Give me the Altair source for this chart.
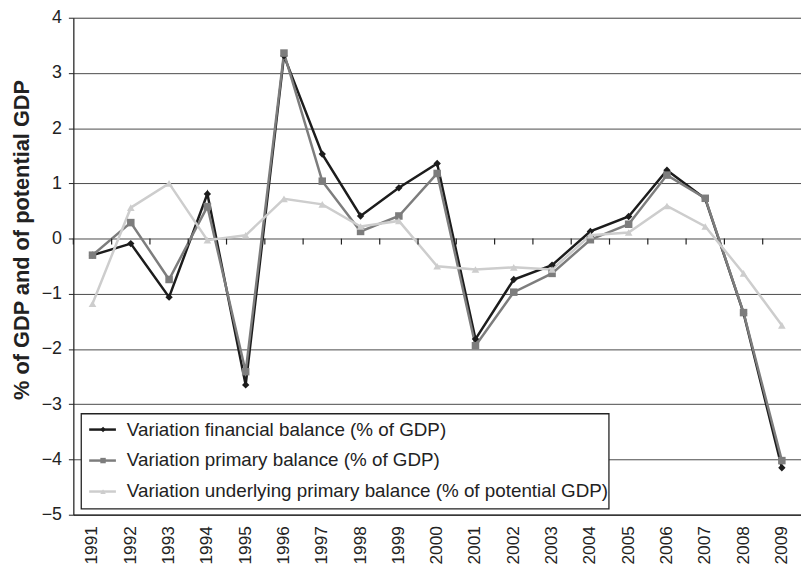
import altair as alt
import pandas as pd

years = [str(y) for y in range(1991, 2010)]
financial = [-0.30, -0.09, -1.06, 0.81, -2.65, 3.31, 1.53, 0.41, 0.92, 1.36,
             -1.82, -0.74, -0.48, 0.13, 0.40, 1.24, 0.72, -1.35, -4.15]
primary = [-0.30, 0.29, -0.74, 0.58, -2.41, 3.36, 1.04, 0.13, 0.41, 1.18,
           -1.94, -0.97, -0.63, -0.02, 0.26, 1.15, 0.73, -1.34, -4.02]
underlying = [-1.18, 0.56, 1.00, -0.03, 0.06, 0.72, 0.62, 0.22, 0.32, -0.50,
              -0.56, -0.52, -0.56, 0.06, 0.11, 0.59, 0.22, -0.63, -1.57]

series_names = [
    "Variation financial balance (% of GDP)",
    "Variation primary balance (% of GDP)",
    "Variation underlying primary balance (% of potential GDP)",
]
series_values = [financial, primary, underlying]
colors = ["#1c1c1c", "#7d7d7d", "#cdcdcd"]
shapes = ["diamond", "square", "triangle-up"]
sizes = [55, 60, 65]

rows = []
for name, vals in zip(series_names, series_values):
    for yr, v in zip(years, vals):
        rows.append({"year": yr, "value": v, "series": name})
df = pd.DataFrame(rows)
years_df = pd.DataFrame({"year": years})

W, H = 735, 502
YMIN, YMAX = -5, 4
FONT = "Liberation Sans"
TICK_LEN = 6 * (YMAX - YMIN) / H

color_scale = alt.Scale(domain=series_names, range=colors)
shape_scale = alt.Scale(domain=series_names, range=shapes)
size_scale = alt.Scale(domain=series_names, range=sizes)
x_scale = alt.Scale(type="band", paddingInner=0, paddingOuter=0)
y_scale = alt.Scale(domain=[YMIN, YMAX], nice=False, zero=False)

y_enc = alt.Y(
    "value:Q",
    scale=y_scale,
    axis=alt.Axis(
        values=list(range(YMIN, YMAX + 1)), format="d",
        grid=True, gridColor="#4a4a4a", gridWidth=1,
        domainColor="#222222", domainWidth=1.2,
        tickColor="#222222", tickSize=5,
        labelFontSize=18, labelColor="#222222", labelFont=FONT, labelPadding=7,
        title="% of GDP and of potential GDP",
        titleFontSize=22, titleFontWeight="bold", titleFont=FONT, titleColor="#222222",
        titleX=-45, titleY=224, titleBaseline="alphabetic",
    ),
)

lines = alt.Chart(df).mark_line(strokeWidth=2.5).encode(
    x=alt.X("year:N", sort=years, scale=x_scale,
            axis=alt.Axis(labelAngle=-90, labelFontSize=17.5, labelFont=FONT,
                          labelColor="#222222", ticks=False, tickSize=0,
                          labelPadding=11, domain=True, domainColor="#222222",
                          domainWidth=1.2, title=None, grid=False)),
    y=y_enc,
    color=alt.Color("series:N", scale=color_scale, legend=None),
    order=alt.Order("year:N"),
)

# category-axis ticks on the zero line (between categories)
zero_ticks = alt.Chart(years_df).mark_rule(color="#222222", strokeWidth=1.2).encode(
    x=alt.X("year:N", sort=years, scale=x_scale, bandPosition=0),
    y=alt.datum(0),
    y2=alt.datum(-TICK_LEN),
)

points = alt.Chart(df).mark_point(filled=True, opacity=1).encode(
    x=alt.X("year:N", sort=years, scale=x_scale),
    y=alt.Y("value:Q", scale=y_scale),
    color=alt.Color("series:N", scale=color_scale, legend=None),
    shape=alt.Shape("series:N", scale=shape_scale, legend=None),
    size=alt.Size("series:N", scale=size_scale, legend=None),
)

# legend box
legend_df = pd.DataFrame({"series": series_names, "row": [0, 1, 2]})
box = alt.Chart(legend_df.head(1)).mark_rect(
    fill="white", stroke="#222222", strokeWidth=1.3
).encode(x=alt.value(8), x2=alt.value(541), y=alt.value(400), y2=alt.value(496))

legend_layers = [box]
for i, (name, c, s) in enumerate(zip(series_names, colors, shapes)):
    yy = 416 + i * 31.3
    d = legend_df[legend_df["series"] == name]
    legend_layers.append(
        alt.Chart(d).mark_rule(color=c, strokeWidth=2.5).encode(
            x=alt.value(16), x2=alt.value(43), y=alt.value(yy)))
    legend_layers.append(
        alt.Chart(d).mark_point(filled=True, opacity=1, shape=s, size=30, color=c).encode(
            x=alt.value(30), y=alt.value(yy)))
    legend_layers.append(
        alt.Chart(d).mark_text(align="left", baseline="middle", fontSize=19,
                               font=FONT, color="#222222").encode(
            x=alt.value(54), y=alt.value(yy), text="series:N"))

chart = alt.layer(lines, zero_ticks, *legend_layers, points).properties(
    width=W, height=H,
    autosize=alt.AutoSizeParams(type="none"),
    padding={"left": 66, "top": 7, "right": 0, "bottom": 51},
).configure_view(stroke=None).configure(background="white")

chart.save("out.html", embed_options={"renderer": "svg", "actions": False})
